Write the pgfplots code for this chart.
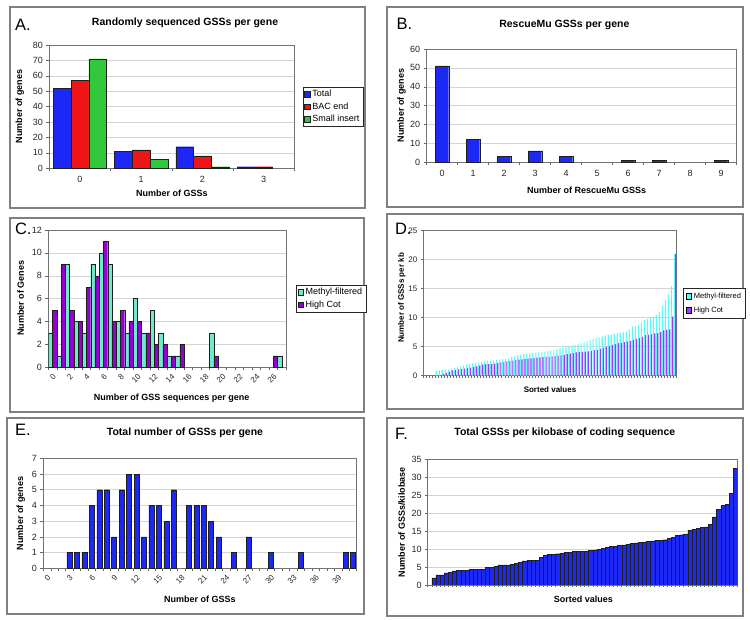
\documentclass[border=0pt]{standalone}
\usepackage{pgfplots}
\usepackage{pgfplotstable}
\pgfplotsset{compat=1.18}
\usepackage{fontspec}
\setmainfont{Liberation Sans}

\definecolor{cBlue}{RGB}{30,40,245}
\definecolor{cRed}{RGB}{240,20,20}
\definecolor{cGreen}{RGB}{50,200,60}
\definecolor{cAqua}{RGB}{110,235,200}
\definecolor{cPurp}{RGB}{150,0,210}
\definecolor{dCyan}{RGB}{90,250,250}
\definecolor{dPurp}{RGB}{155,60,250}
\definecolor{frameGray}{RGB}{128,128,128}
\definecolor{gridGray}{RGB}{212,212,212}
\definecolor{barEdge}{RGB}{30,30,30}

\pgfplotsset{
  sq legend/.style={legend image code/.code={\draw[##1,/tikz/.cd,yshift=-2.8pt] (0pt,0pt) rectangle (5.6pt,5.6pt);}},
  excel/.style={
    scale only axis,
    anchor=south west,
    axis line style={draw=black!55, line width=0.5pt},
    ymajorgrids, major grid style={draw=gridGray, line width=0.5pt},
    tick style={draw=black!60, line width=0.5pt},
    major tick length=3pt,
    tick align=outside,
    tick pos=left,
    ymin=0,
    /pgf/number format/assume math mode=true,
    ticklabel style={font=\fontsize{9}{10.5}\selectfont, text=black!85},
    xticklabel style={yshift=-4pt},
    label style={font=\fontsize{9}{11}\selectfont\bfseries},
    title style={font=\fontsize{10.5}{12}\selectfont\bfseries, anchor=center, yshift=-8pt},
    xlabel style={anchor=center},
    ylabel style={anchor=center},
    legend cell align=left,
    legend style={draw=black!85, line width=0.5pt, font=\fontsize{9}{11}\selectfont, anchor=west, inner sep=1.5pt, row sep=0.3pt},
    xticklabels={},
    extra x tick style={grid=none, major tick length=0pt},
  },
}

% Panel D: sorted values (Methyl-filtered, High Cot)
\pgfplotstableread{
mf hc
0 0
0 0
0 0
0 0
0.8 0
0.9 0.1
1.0 0.3
1.05 0.5
1.1 0.7
1.2 0.9
1.3 1.0
1.45 1.1
1.6 1.15
1.75 1.2
1.9 1.3
2.0 1.4
2.1 1.5
2.2 1.6
2.3 1.75
2.4 1.9
2.45 2.0
2.5 2.0
2.6 2.05
2.65 2.1
2.7 2.2
2.8 2.3
2.85 2.4
2.9 2.45
3.0 2.5
3.2 2.6
3.35 2.7
3.5 2.75
3.6 2.8
3.7 2.9
3.8 2.95
3.85 3.0
3.9 3.05
4.0 3.1
4.05 3.15
4.1 3.2
4.2 3.3
4.3 3.3
4.35 3.35
4.4 3.4
4.5 3.45
4.7 3.5
4.85 3.6
5.0 3.7
5.1 3.8
5.2 3.9
5.3 4.0
5.4 4.05
5.6 4.1
5.8 4.15
6.0 4.2
6.15 4.3
6.3 4.4
6.5 4.5
6.6 4.65
6.75 4.8
6.9 5.0
7.0 5.15
7.1 5.3
7.2 5.5
7.3 5.6
7.4 5.7
7.5 5.8
7.6 5.9
8.0 6.0
8.5 6.2
8.6 6.35
8.8 6.5
9.2 6.7
9.6 7.0
9.8 7.1
10.0 7.2
10.2 7.3
10.5 7.35
11.0 7.5
12.0 7.8
13.0 7.9
14.0 8.0
15.4 10.2
21.0 21.0
}\tableD

% Panel F: sorted values (from the 2nd category on)
\pgfplotstableread{
v
2.0
2.8
2.8
3.4
3.6
3.9
4.0
4.1
4.1
4.3
4.4
4.4
4.4
4.9
4.9
5.2
5.6
5.6
5.6
5.8
6.1
6.4
6.7
6.8
6.9
6.9
7.7
8.3
8.5
8.5
8.7
8.9
9.0
9.1
9.3
9.3
9.3
9.4
9.6
9.8
9.9
10.2
10.4
10.7
10.8
11.0
11.2
11.3
11.5
11.7
11.9
12.0
12.2
12.3
12.4
12.4
12.6
13.0
13.3
13.8
14.0
14.2
15.3
15.5
15.8
16.0
16.2
16.9
19.0
21.0
22.2
22.4
25.6
32.5
}\tableF

\begin{document}
\begin{tikzpicture}[x=1pt,y=1pt]
\useasboundingbox (0,0) rectangle (750,620);
\fill[white] (0,0) rectangle (750,620);

% panel frames
\draw[frameGray, line width=1.2pt] (10,613) rectangle (365,412);
\draw[frameGray, line width=1.2pt] (387,613) rectangle (743,413);
\draw[frameGray, line width=1.2pt] (10,402) rectangle (364,208);
\draw[frameGray, line width=1.2pt] (387,406) rectangle (743,211);
\draw[frameGray, line width=1.2pt] (7,202) rectangle (364,6);
\draw[frameGray, line width=1.2pt] (387,202) rectangle (743,4);

% ---------------- A ----------------
\begin{axis}[excel, at={(49.3pt,451.7pt)}, width=245pt, height=123.3pt,
  xmin=-0.5, xmax=3.5, ymax=80, ytick={0,10,...,80},
  xtick={-0.5,0.5,1.5,2.5,3.5},
  extra x ticks={0,1,2,3}, extra x tick labels={0,1,2,3},
  title={Randomly sequenced GSSs per gene},
  title style={at={(axis description cs:0.554,1.197)}},
  xlabel={Number of GSSs}, xlabel style={at={(axis description cs:0.5,-0.203)}},
  ylabel={Number of genes}, ylabel style={at={(axis description cs:-0.12,0.5)}},
  legend style={at={(1.034,0.5)}},
]
\addplot[ybar, sq legend, bar width=0.29, bar shift=-0.29, fill=cBlue, draw=barEdge, line width=0.4pt] coordinates {(0,52) (1,11) (2,14) (3,1)};
\addlegendentry{Total}
\addplot[ybar, sq legend, bar width=0.29, bar shift=0, fill=cRed, draw=barEdge, line width=0.4pt] coordinates {(0,57) (1,12) (2,8) (3,1)};
\addlegendentry{BAC end}
\addplot[ybar, sq legend, bar width=0.29, bar shift=0.29, fill=cGreen, draw=barEdge, line width=0.4pt] coordinates {(0,71) (1,6) (2,1)};
\addlegendentry{Small insert}
\end{axis}

% ---------------- B ----------------
\begin{axis}[excel, at={(426.7pt,457.7pt)}, width=310pt, height=113.3pt,
  xmin=-0.5, xmax=9.5, ymax=60, ytick={0,10,...,60},
  xtick={-0.5,0.5,...,9.5},
  extra x ticks={0,1,...,9}, extra x tick labels={0,1,2,3,4,5,6,7,8,9},
  title={RescueMu GSSs per gene},
  title style={at={(axis description cs:0.444,1.232)}},
  xlabel={Number of RescueMu GSSs}, xlabel style={at={(axis description cs:0.516,-0.251)}},
  ylabel={Number of genes}, ylabel style={at={(axis description cs:-0.081,0.5)}},
]
\addplot[ybar, bar width=0.42, bar shift=0, fill=cBlue, draw=barEdge, line width=0.4pt] coordinates {(0,51) (1,12) (2,3) (3,6) (4,3) (6,1) (7,1) (9,1)};
\end{axis}

% ---------------- C ----------------
\begin{axis}[excel, at={(48.3pt,252.7pt)}, width=237.7pt, height=137.3pt,
  xmin=-0.5, xmax=27.5, ymax=12, ytick={0,2,...,12},
  xtick={-0.5,0.5,...,27.5},
  extra x ticks={0,2,...,26}, extra x tick labels={0,2,4,6,8,10,12,14,16,18,20,22,24,26},
  xticklabel style={rotate=45, anchor=north east, yshift=2pt, xshift=2pt, font=\fontsize{8}{9}\selectfont},
  xlabel={Number of GSS sequences per gene}, xlabel style={at={(axis description cs:0.519,-0.226)}},
  ylabel={Number of Genes}, ylabel style={at={(axis description cs:-0.116,0.503)}},
  legend style={at={(1.042,0.5)}},
]
\addplot[ybar, sq legend, bar width=0.5, bar shift=-0.25, fill=cAqua, draw=barEdge, line width=0.4pt] coordinates {(0,3) (1,1) (2,9) (3,4) (4,3) (5,9) (6,10) (7,9) (8,4) (9,3) (10,6) (11,3) (12,5) (13,3) (14,1) (15,1) (19,3) (27,1)};
\addlegendentry{Methyl-filtered}
\addplot[ybar, sq legend, bar width=0.5, bar shift=0.25, fill=cPurp, draw=barEdge, line width=0.4pt] coordinates {(0,5) (1,9) (2,5) (3,4) (4,7) (5,8) (6,11) (7,4) (8,5) (9,4) (10,4) (11,3) (12,2) (13,2) (14,1) (15,2) (19,1) (26,1)};
\addlegendentry{High Cot}
\end{axis}

% ---------------- D ----------------
\begin{axis}[excel, at={(423.3pt,244.3pt)}, width=253.4pt, height=145pt,
  xmin=-0.5, xmax=83.5, ymax=25, ytick={0,5,...,25},
  xtick={-0.5,0.5,...,83.5}, major tick length=2.5pt,
  ticklabel style={font=\fontsize{8}{9.5}\selectfont},
  label style={font=\fontsize{8}{10}\selectfont\bfseries},
  xlabel={Sorted values}, xlabel style={at={(axis description cs:0.5,-0.099)}},
  ylabel={Number of GSSs per kb}, ylabel style={at={(axis description cs:-0.085,0.536)}},
  legend style={at={(1.025,0.5)}, font=\fontsize{7.5}{10}\selectfont, row sep=3pt, inner sep=2.5pt},
]
\addplot[ybar, sq legend, bar width=0.38, bar shift=-0.2, fill=dCyan, draw=none] table[x expr=\coordindex, y=mf] {\tableD};
\addlegendentry{Methyl-filtered}
\addplot[ybar, sq legend, bar width=0.38, bar shift=0.2, fill=dPurp, draw=none] table[x expr=\coordindex, y=hc] {\tableD};
\addlegendentry{High Cot}
\end{axis}

% ---------------- E ----------------
\begin{axis}[excel, at={(43.3pt,51.7pt)}, width=313.4pt, height=110pt,
  xmin=-0.5, xmax=41.5, ymax=7, ytick={0,1,...,7},
  xtick={-0.5,0.5,...,41.5},
  extra x ticks={0,3,...,39}, extra x tick labels={0,3,6,9,12,15,18,21,24,27,30,33,36,39},
  xticklabel style={rotate=45, anchor=north east, yshift=2pt, xshift=2pt, font=\fontsize{8}{9}\selectfont},
  title={Total number of GSSs per gene},
  title style={at={(axis description cs:0.452,1.248)}},
  xlabel={Number of GSSs}, xlabel style={at={(axis description cs:0.5,-0.282)}},
  ylabel={Number of genes}, ylabel style={at={(axis description cs:-0.072,0.5)}},
]
\addplot[ybar, bar width=0.67, bar shift=0, fill=cBlue, draw=barEdge, line width=0.4pt] coordinates {(3,1) (4,1) (5,1) (6,4) (7,5) (8,5) (9,2) (10,5) (11,6) (12,6) (13,2) (14,4) (15,4) (16,3) (17,5) (19,4) (20,4) (21,4) (22,3) (23,2) (25,1) (27,2) (30,1) (34,1) (40,1) (41,1)};
\end{axis}

% ---------------- F ----------------
\begin{axis}[excel, at={(427.7pt,35pt)}, width=309.6pt, height=125.7pt,
  xmin=-0.5, xmax=74.5, ymax=35, ytick={0,5,...,35},
  xtick={-0.5,0.5,...,74.5}, major tick length=2.5pt,
  title={Total GSSs per kilobase of coding sequence},
  title style={at={(axis description cs:0.443,1.225)}},
  xlabel={Sorted values}, xlabel style={at={(axis description cs:0.503,-0.114)}},
  ylabel={Number of GSSs/kilobase}, ylabel style={at={(axis description cs:-0.084,0.5)}},
]
\addplot[ybar, bar width=1, bar shift=0, fill=cBlue, draw=barEdge, line width=0.4pt] table[x expr=\coordindex+1, y=v] {\tableF};
\end{axis}

% panel letters
\node[anchor=base west, font=\fontsize{16.5}{18}\selectfont] at (11.5,589.3) {A.};
\node[anchor=base west, font=\fontsize{16.5}{18}\selectfont] at (393,590) {B.};
\node[anchor=base west, font=\fontsize{16.5}{18}\selectfont] at (11.5,385.7) {C.};
\node[anchor=base west, font=\fontsize{16.5}{18}\selectfont] at (391.5,385) {D.};
\node[anchor=base west, font=\fontsize{16.5}{18}\selectfont] at (11.5,184.3) {E.};
\node[anchor=base west, font=\fontsize{16.5}{18}\selectfont] at (391.5,180) {F.};
\end{tikzpicture}
\end{document}
